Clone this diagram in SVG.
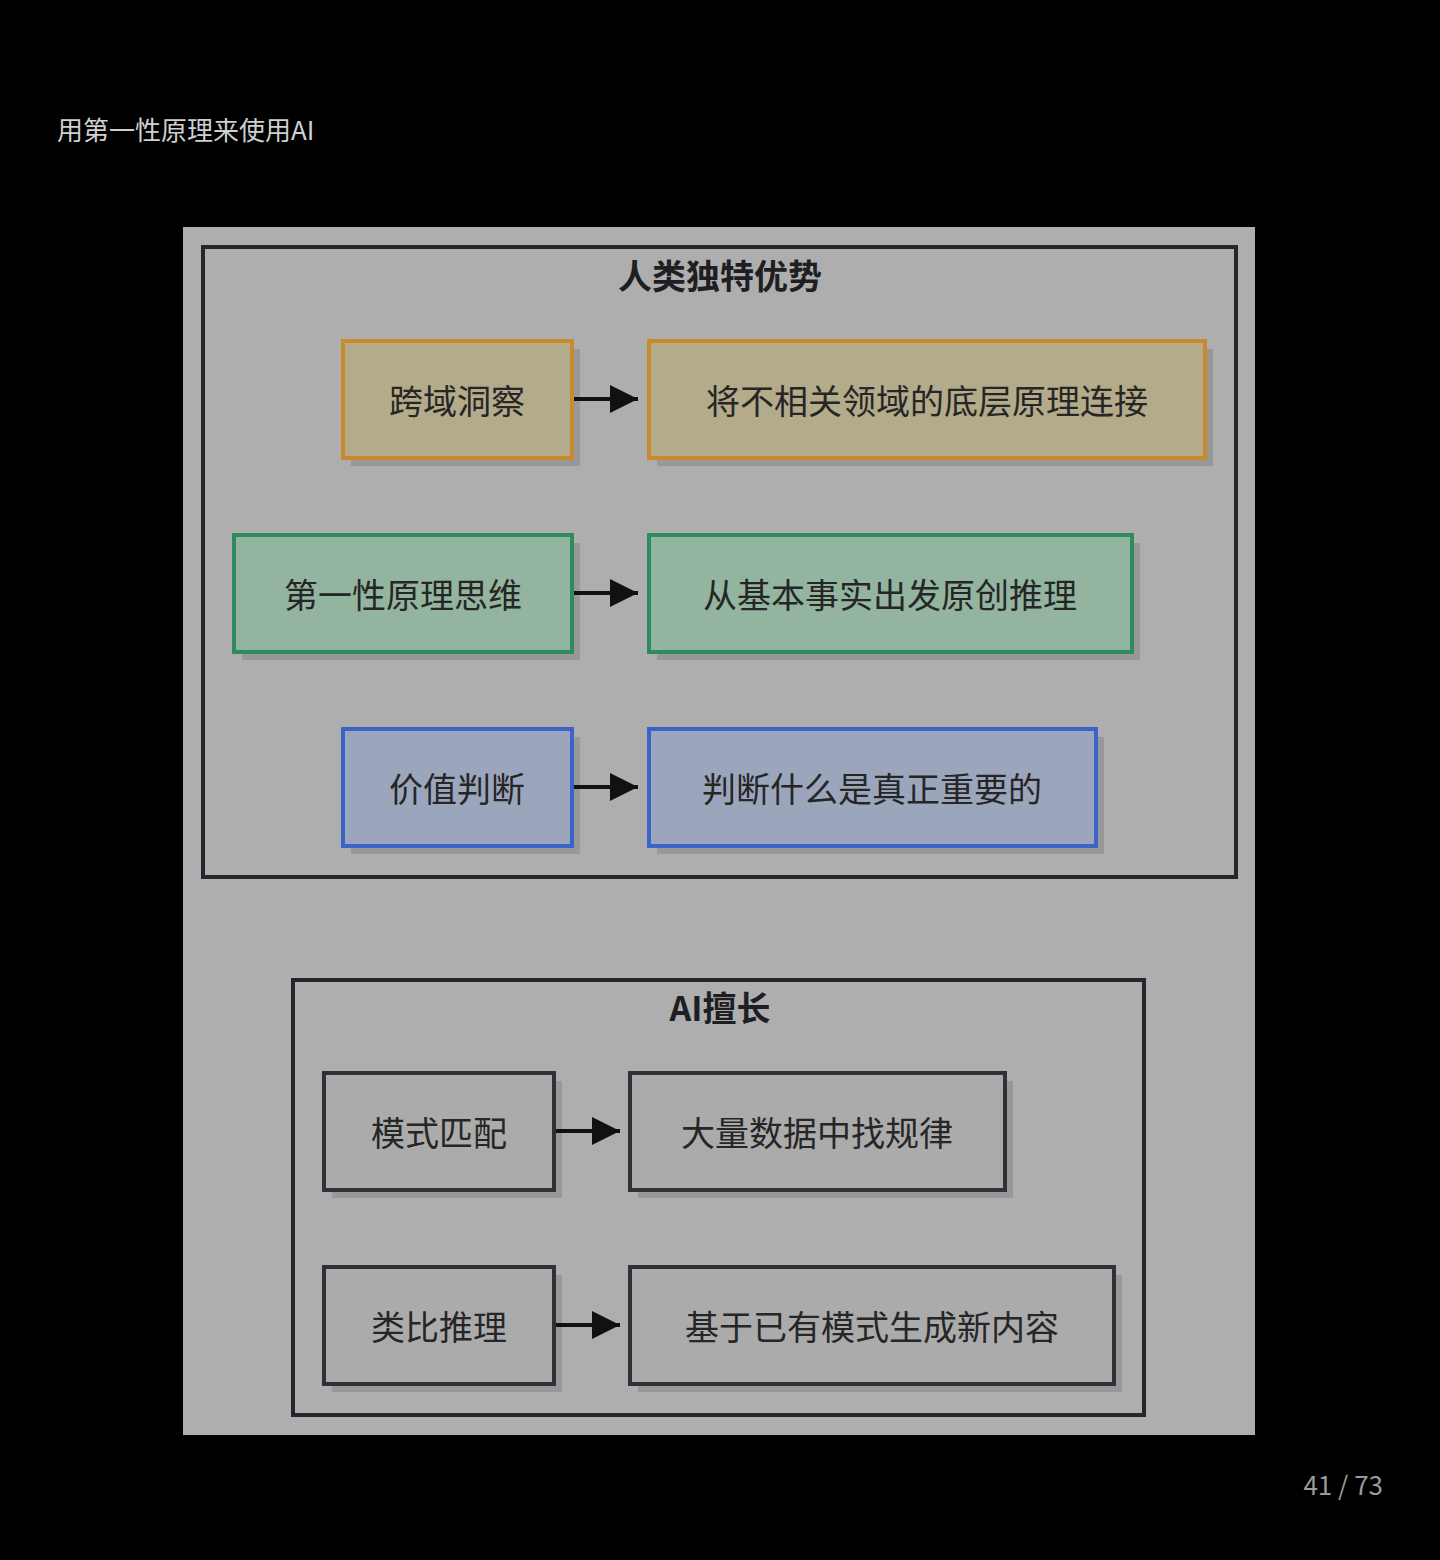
<svg xmlns="http://www.w3.org/2000/svg" width="1440" height="1560" viewBox="0 0 1440 1560">
<style>
text{font-family:"Noto Sans CJK SC","Liberation Sans",sans-serif}
.t{font-size:34px;fill:#262626;text-anchor:middle;dominant-baseline:central}
.h{font-size:34px;font-weight:bold;fill:#1e1e24;text-anchor:middle;dominant-baseline:central}
.sh{fill:#000;opacity:0.12}
.o{fill:#b3ab8a;stroke:#c98a2e;stroke-width:4}
.g{fill:#93b5a0;stroke:#2e8b5e;stroke-width:4}
.b{fill:#9ba6bc;stroke:#3b63c8;stroke-width:4}
.n{fill:#ababab;stroke:#303038;stroke-width:4}
.a{stroke:#111;stroke-width:4;fill:none;marker-end:url(#ah)}
</style>
<defs><marker id="ah" markerWidth="8" markerHeight="8" refX="7" refY="4" orient="auto" markerUnits="userSpaceOnUse" viewBox="0 0 8 8"><path d="M0,0L8,4L0,8z" fill="#111"/></marker>
<marker id="ah2" viewBox="0 0 10 10" refX="10" refY="5" markerWidth="28" markerHeight="32" markerUnits="userSpaceOnUse" orient="auto"><path d="M0,0L10,5L0,10z" fill="#111"/></marker></defs>
<rect width="1440" height="1560" fill="#000"/>
<text x="57" y="128" font-size="26" fill="#cfcfcf" dominant-baseline="central">用第一性原理来使用AI</text>
<text x="1383" y="1483" font-size="26" fill="#9a9a9a" text-anchor="end" dominant-baseline="central">41 / 73</text>
<rect x="183" y="227" width="1072" height="1208" fill="#aeaeae"/>
<g id="human">
<rect x="203" y="247" width="1033" height="630" fill="none" stroke="#25252e" stroke-width="4"/>
<text class="h" x="720" y="274">人类独特优势</text>
</g>
<g id="ai">
<rect x="293" y="980" width="851" height="435" fill="none" stroke="#25252e" stroke-width="4"/>
<text class="h" x="720" y="1006">AI擅长</text>
</g>
<g id="n1"><rect class="sh" x="351" y="349" width="229" height="117"/><rect class="o" x="343" y="341" width="229" height="117"/><text class="t" x="457" y="399">跨域洞察</text></g>
<g id="n2"><rect class="sh" x="657" y="349" width="556" height="117"/><rect class="o" x="649" y="341" width="556" height="117"/><text class="t" x="927" y="399">将不相关领域的底层原理连接</text></g>
<g id="n3"><rect class="sh" x="242" y="543" width="338" height="117"/><rect class="g" x="234" y="535" width="338" height="117"/><text class="t" x="403" y="593">第一性原理思维</text></g>
<g id="n4"><rect class="sh" x="657" y="543" width="483" height="117"/><rect class="g" x="649" y="535" width="483" height="117"/><text class="t" x="890" y="593">从基本事实出发原创推理</text></g>
<g id="n5"><rect class="sh" x="351" y="737" width="229" height="117"/><rect class="b" x="343" y="729" width="229" height="117"/><text class="t" x="457" y="787">价值判断</text></g>
<g id="n6"><rect class="sh" x="657" y="737" width="447" height="117"/><rect class="b" x="649" y="729" width="447" height="117"/><text class="t" x="872" y="787">判断什么是真正重要的</text></g>
<g id="n7"><rect class="sh" x="332" y="1081" width="230" height="117"/><rect class="n" x="324" y="1073" width="230" height="117"/><text class="t" x="439" y="1131">模式匹配</text></g>
<g id="n8"><rect class="sh" x="638" y="1081" width="375" height="117"/><rect class="n" x="630" y="1073" width="375" height="117"/><text class="t" x="817" y="1131">大量数据中找规律</text></g>
<g id="n9"><rect class="sh" x="332" y="1275" width="230" height="117"/><rect class="n" x="324" y="1267" width="230" height="117"/><text class="t" x="439" y="1325">类比推理</text></g>
<g id="n10"><rect class="sh" x="638" y="1275" width="484" height="117"/><rect class="n" x="630" y="1267" width="484" height="117"/><text class="t" x="872" y="1325">基于已有模式生成新内容</text></g>
<g id="connectors" stroke="#111" stroke-width="4" fill="none">
<path d="M574,399H638" marker-end="url(#ah2)"/>
<path d="M574,593H638" marker-end="url(#ah2)"/>
<path d="M574,787H638" marker-end="url(#ah2)"/>
<path d="M556,1131H620" marker-end="url(#ah2)"/>
<path d="M556,1325H620" marker-end="url(#ah2)"/>
</g>
</svg>
